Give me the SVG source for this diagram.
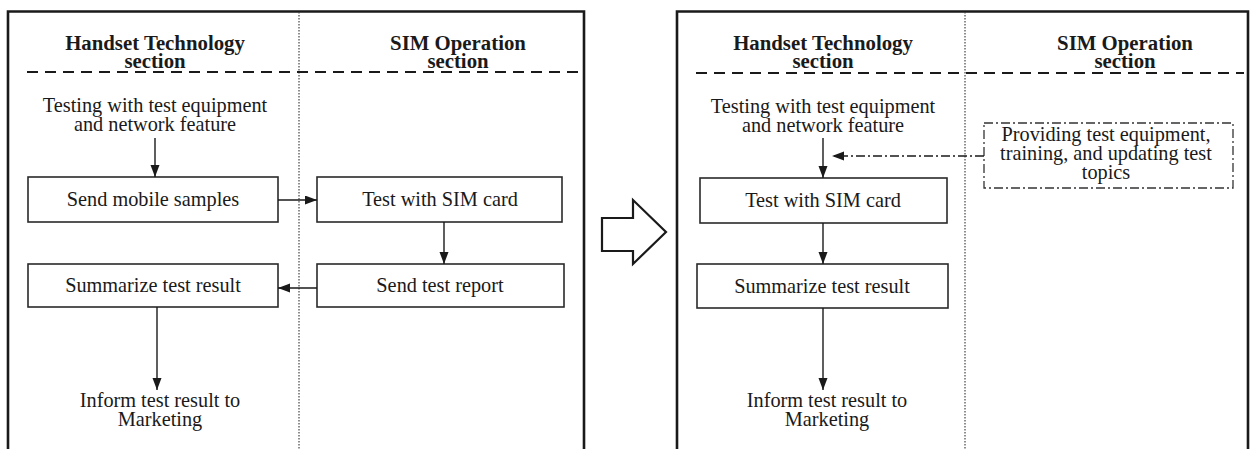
<svg xmlns="http://www.w3.org/2000/svg" width="1256" height="449" viewBox="0 0 1256 449">
<defs>
<marker id="ah" markerUnits="userSpaceOnUse" markerWidth="12" markerHeight="10" refX="12" refY="4.5" orient="auto">
<path d="M0,0 L12,4.5 L0,9 z" fill="#1a1a1a"/>
</marker>
</defs>
<style>
.frame{fill:none;stroke:#1a1a1a;stroke-width:2.6}
.div{stroke:#444;stroke-width:1.2;stroke-dasharray:1.5 1.5}
.hdr{stroke:#1a1a1a;stroke-width:2.2;stroke-dasharray:11 7}
.box{fill:#fff;stroke:#2a2a2a;stroke-width:1.6}
.dd{fill:none;stroke:#333;stroke-width:1.3;stroke-dasharray:9 3 2 3}
.conn{fill:none;stroke:#1a1a1a;stroke-width:1.4}
.t{font-family:"Liberation Serif","Times New Roman",serif;font-size:20.3px;fill:#1a1a1a;text-anchor:middle}
.h{font-family:"Liberation Serif","Times New Roman",serif;font-size:20.8px;font-weight:bold;fill:#1a1a1a;text-anchor:middle}
</style>
<rect width="1256" height="449" fill="#fff"/>

<g id="left-panel">
<path class="frame" d="M8,452 V11.5 H584 V452"/>
<line class="div" x1="299" y1="12" x2="299" y2="449"/>
<line class="hdr" x1="27" y1="72" x2="578" y2="72"/>
<text class="h"><tspan x="155" y="50">Handset Technology</tspan><tspan x="155" y="68">section</tspan></text>
<text class="h"><tspan x="458" y="50">SIM Operation</tspan><tspan x="458" y="68">section</tspan></text>
</g>

<g id="l-testing">
<text class="t"><tspan x="155" y="112">Testing with test equipment</tspan><tspan x="155" y="131">and network feature</tspan></text>
</g>
<g id="l-send-samples">
<rect class="box" x="28" y="177" width="250" height="45"/>
<text class="t" x="153" y="206">Send mobile samples</text>
</g>
<g id="l-test-sim">
<rect class="box" x="317" y="177" width="245" height="45"/>
<text class="t" x="440" y="206">Test with SIM card</text>
</g>
<g id="l-summarize">
<rect class="box" x="28" y="264" width="250" height="43"/>
<text class="t" x="153" y="292">Summarize test result</text>
</g>
<g id="l-send-report">
<rect class="box" x="317" y="264" width="247" height="43"/>
<text class="t" x="440" y="292">Send test report</text>
</g>
<g id="l-inform">
<text class="t"><tspan x="160" y="407">Inform test result to</tspan><tspan x="160" y="426">Marketing</tspan></text>
</g>

<g id="transition-arrow">
<path d="M602,218 H633 V200 L666,232 L633,264 V251 H602 Z" fill="#fff" stroke="#1a1a1a" stroke-width="2.2" stroke-linejoin="miter"/>
</g>

<g id="right-panel">
<path class="frame" d="M677,452 V11.5 H1248 V452"/>
<line class="div" x1="965" y1="12" x2="965" y2="449"/>
<line class="hdr" x1="696" y1="73" x2="1244" y2="73"/>
<text class="h"><tspan x="823" y="50">Handset Technology</tspan><tspan x="823" y="68">section</tspan></text>
<text class="h"><tspan x="1125" y="50">SIM Operation</tspan><tspan x="1125" y="68">section</tspan></text>
</g>

<g id="r-testing">
<text class="t"><tspan x="823" y="113">Testing with test equipment</tspan><tspan x="823" y="132">and network feature</tspan></text>
</g>
<g id="r-providing">
<rect class="dd" x="984" y="123" width="249" height="65"/>
<text class="t"><tspan x="1106" y="141">Providing test equipment,</tspan><tspan x="1106" y="160">training, and updating test</tspan><tspan x="1106" y="179">topics</tspan></text>
</g>
<g id="r-test-sim">
<rect class="box" x="700" y="178" width="247" height="45"/>
<text class="t" x="823" y="207">Test with SIM card</text>
</g>
<g id="r-summarize">
<rect class="box" x="697" y="264" width="251" height="44"/>
<text class="t" x="822" y="293">Summarize test result</text>
</g>
<g id="r-inform">
<text class="t"><tspan x="827" y="407">Inform test result to</tspan><tspan x="827" y="426">Marketing</tspan></text>
</g>

<g id="connectors">
<line class="conn" x1="155" y1="138" x2="155" y2="177" marker-end="url(#ah)"/>
<line class="conn" x1="278" y1="200" x2="317" y2="200" marker-end="url(#ah)"/>
<line class="conn" x1="444" y1="222" x2="444" y2="264" marker-end="url(#ah)"/>
<line class="conn" x1="317" y1="288" x2="278" y2="288" marker-end="url(#ah)"/>
<line class="conn" x1="157" y1="307" x2="157" y2="390" marker-end="url(#ah)"/>
<line class="conn" x1="823" y1="138" x2="823" y2="178" marker-end="url(#ah)"/>
<line class="conn" x1="984" y1="156" x2="832" y2="156" stroke-dasharray="9 3 2 3" marker-end="url(#ah)"/>
<line class="conn" x1="823" y1="223" x2="823" y2="264" marker-end="url(#ah)"/>
<line class="conn" x1="823" y1="308" x2="823" y2="390" marker-end="url(#ah)"/>
</g>
</svg>
